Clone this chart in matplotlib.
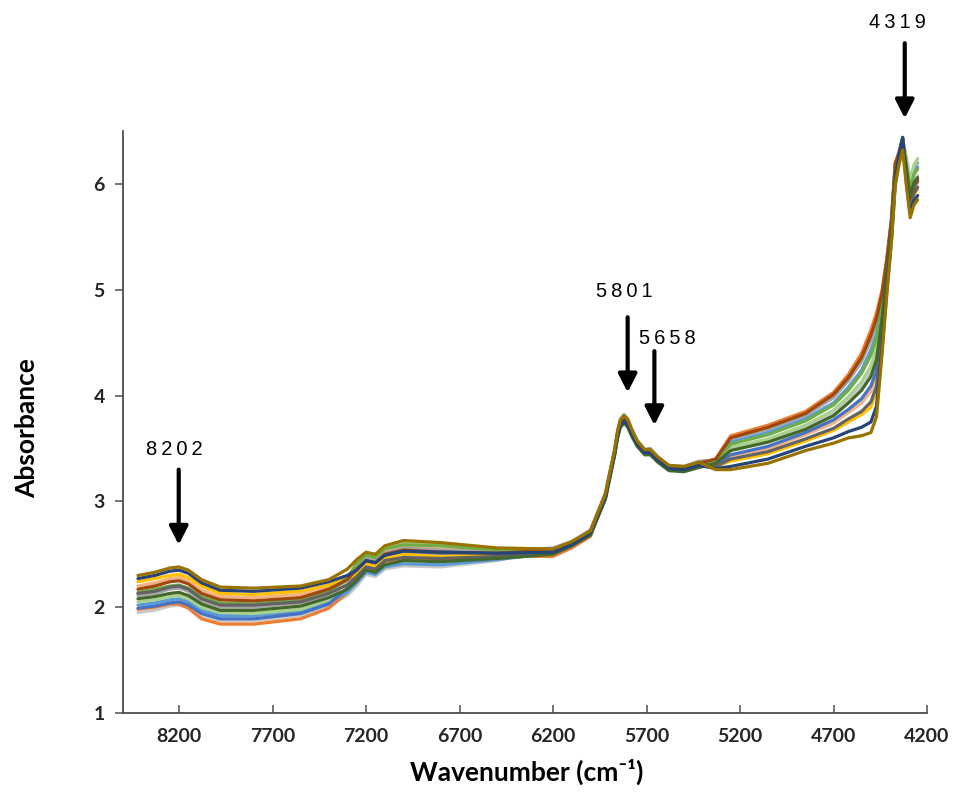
import matplotlib
matplotlib.use("Agg")
import matplotlib.pyplot as plt

plt.rcParams["font.family"] = ["Lato", "DejaVu Sans"]

# Wavenumber grid (cm-1) shared by all spectra
wavenumber = [8420, 8330, 8250, 8200, 8150, 8080, 7980, 7800, 7550, 7400,
              7300, 7250, 7200, 7150, 7100, 7000, 6800, 6500,
              6200, 6100, 6000, 5920, 5870, 5855, 5840, 5820, 5800, 5780,
              5750, 5710, 5680, 5640, 5580, 5500, 5420,
              5330, 5250, 5050, 4850, 4700, 4620, 4550, 4500, 4470, 4440,
              4415, 4390, 4370, 4350, 4330, 4310, 4290, 4270, 4250]

# Absorbance of each sample spectrum
spec_light_gray = [1.95, 1.97, 2.01, 2.02, 2.00, 1.92, 1.87, 1.87, 1.92, 2.01,
                   2.11, 2.20, 2.31, 2.29, 2.36, 2.39, 2.38, 2.44,
                   2.55, 2.61, 2.72, 3.07, 3.49, 3.66, 3.76, 3.80, 3.76, 3.68, 3.57, 3.48, 3.49, 3.41, 3.33, 3.32, 3.37,
                   3.36, 3.49, 3.58, 3.70, 3.84, 3.96, 4.09, 4.23, 4.39, 4.76, 5.16, 5.58, 6.11, 6.25, 6.39, 6.14, 5.90, 6.03, 6.08]
spec_orange = [1.98, 2.00, 2.03, 2.03, 1.99, 1.89, 1.84, 1.84, 1.89, 1.99,
               2.14, 2.28, 2.37, 2.35, 2.43, 2.46, 2.45, 2.48,
               2.48, 2.56, 2.67, 3.05, 3.47, 3.64, 3.74, 3.78, 3.74, 3.66, 3.55, 3.47, 3.47, 3.40, 3.32, 3.31, 3.35,
               3.40, 3.62, 3.72, 3.85, 4.03, 4.20, 4.40, 4.62, 4.78, 5.00, 5.30, 5.67, 6.20, 6.30, 6.44, 6.10, 5.85, 5.97, 6.02]
spec_light_orange = [2.20, 2.23, 2.27, 2.28, 2.25, 2.16, 2.10, 2.09, 2.12, 2.19,
                     2.29, 2.39, 2.47, 2.45, 2.53, 2.57, 2.55, 2.53,
                     2.53, 2.60, 2.71, 3.05, 3.47, 3.64, 3.74, 3.78, 3.74, 3.66, 3.55, 3.47, 3.47, 3.40, 3.32, 3.31, 3.35,
                     3.34, 3.43, 3.50, 3.63, 3.74, 3.84, 3.93, 4.04, 4.19, 4.64, 5.09, 5.54, 6.07, 6.23, 6.37, 6.09, 5.82, 5.95, 6.01]
spec_gray = [2.11, 2.13, 2.17, 2.18, 2.15, 2.06, 2.00, 2.00, 2.04, 2.12,
             2.25, 2.38, 2.46, 2.44, 2.51, 2.56, 2.54, 2.52,
             2.56, 2.62, 2.73, 3.08, 3.50, 3.67, 3.78, 3.82, 3.78, 3.69, 3.58, 3.49, 3.50, 3.42, 3.34, 3.33, 3.38,
             3.39, 3.59, 3.68, 3.81, 3.98, 4.14, 4.32, 4.52, 4.68, 4.94, 5.27, 5.65, 6.18, 6.29, 6.43, 6.22, 6.00, 6.14, 6.20]
spec_blue = [2.02, 2.04, 2.07, 2.08, 2.05, 1.97, 1.92, 1.92, 1.96, 2.05,
             2.14, 2.23, 2.33, 2.31, 2.38, 2.41, 2.40, 2.45,
             2.51, 2.58, 2.69, 3.03, 3.45, 3.61, 3.71, 3.75, 3.71, 3.63, 3.53, 3.45, 3.45, 3.38, 3.30, 3.29, 3.33,
             3.38, 3.56, 3.65, 3.78, 3.93, 4.08, 4.24, 4.43, 4.58, 4.88, 5.23, 5.63, 6.16, 6.28, 6.42, 6.20, 5.97, 6.10, 6.16]
spec_mid_blue = [1.99, 2.01, 2.04, 2.05, 2.02, 1.94, 1.89, 1.89, 1.94, 2.03,
                 2.18, 2.33, 2.42, 2.40, 2.47, 2.51, 2.50, 2.50,
                 2.52, 2.59, 2.70, 3.04, 3.46, 3.62, 3.72, 3.76, 3.72, 3.64, 3.54, 3.46, 3.46, 3.39, 3.31, 3.30, 3.34,
                 3.35, 3.44, 3.52, 3.65, 3.77, 3.87, 3.97, 4.09, 4.24, 4.67, 5.11, 5.55, 6.08, 6.23, 6.37, 6.10, 5.84, 5.97, 6.03]
spec_light_green = [2.05, 2.07, 2.10, 2.11, 2.08, 2.00, 1.95, 1.94, 1.98, 2.07,
                    2.25, 2.43, 2.50, 2.48, 2.56, 2.61, 2.59, 2.55,
                    2.52, 2.60, 2.70, 3.04, 3.46, 3.63, 3.73, 3.77, 3.73, 3.65, 3.54, 3.46, 3.46, 3.39, 3.31, 3.30, 3.34,
                    3.37, 3.51, 3.59, 3.72, 3.86, 3.99, 4.13, 4.28, 4.44, 4.79, 5.18, 5.59, 6.12, 6.26, 6.40, 6.25, 6.04, 6.18, 6.24]
spec_gold = [2.24, 2.27, 2.30, 2.31, 2.28, 2.20, 2.13, 2.12, 2.15, 2.21,
             2.27, 2.31, 2.41, 2.39, 2.46, 2.50, 2.48, 2.49,
             2.54, 2.60, 2.71, 3.06, 3.48, 3.64, 3.75, 3.79, 3.75, 3.66, 3.56, 3.47, 3.48, 3.40, 3.32, 3.31, 3.36,
             3.33, 3.38, 3.45, 3.57, 3.67, 3.75, 3.82, 3.89, 4.05, 4.55, 5.04, 5.51, 6.04, 6.21, 6.35, 6.05, 5.77, 5.90, 5.95]
spec_green = [2.14, 2.17, 2.20, 2.21, 2.18, 2.10, 2.04, 2.03, 2.07, 2.14,
              2.28, 2.41, 2.49, 2.47, 2.55, 2.59, 2.58, 2.54,
              2.51, 2.59, 2.69, 3.03, 3.45, 3.61, 3.72, 3.76, 3.72, 3.63, 3.53, 3.45, 3.45, 3.38, 3.30, 3.29, 3.33,
              3.38, 3.54, 3.63, 3.76, 3.91, 4.05, 4.21, 4.38, 4.54, 4.85, 5.21, 5.62, 6.15, 6.27, 6.41, 6.18, 5.95, 6.09, 6.14]
spec_dark_gray = [2.13, 2.15, 2.19, 2.20, 2.17, 2.08, 2.02, 2.02, 2.05, 2.13,
                  2.21, 2.29, 2.38, 2.36, 2.44, 2.47, 2.46, 2.48,
                  2.54, 2.60, 2.71, 3.06, 3.48, 3.64, 3.75, 3.79, 3.75, 3.66, 3.56, 3.47, 3.48, 3.40, 3.32, 3.31, 3.36,
                  3.33, 3.40, 3.47, 3.59, 3.69, 3.78, 3.85, 3.94, 4.09, 4.58, 5.06, 5.52, 6.05, 6.22, 6.36, 6.06, 5.79, 5.91, 5.97]
spec_brown = [2.17, 2.20, 2.24, 2.25, 2.22, 2.13, 2.07, 2.06, 2.09, 2.17,
              2.26, 2.36, 2.44, 2.42, 2.50, 2.54, 2.52, 2.51,
              2.54, 2.61, 2.72, 3.06, 3.48, 3.65, 3.76, 3.80, 3.76, 3.67, 3.56, 3.48, 3.48, 3.41, 3.33, 3.32, 3.36,
              3.40, 3.60, 3.70, 3.83, 4.01, 4.17, 4.36, 4.57, 4.73, 4.97, 5.28, 5.66, 6.19, 6.29, 6.43, 6.12, 5.86, 5.99, 6.04]
spec_dark_green = [2.08, 2.10, 2.13, 2.14, 2.11, 2.03, 1.97, 1.97, 2.01, 2.09,
                   2.17, 2.25, 2.35, 2.33, 2.40, 2.44, 2.43, 2.46,
                   2.50, 2.58, 2.68, 3.02, 3.44, 3.60, 3.70, 3.74, 3.70, 3.62, 3.52, 3.44, 3.44, 3.37, 3.29, 3.28, 3.32,
                   3.36, 3.48, 3.56, 3.68, 3.81, 3.93, 4.05, 4.18, 4.34, 4.73, 5.14, 5.57, 6.10, 6.25, 6.39, 6.13, 5.88, 6.01, 6.06]
spec_dark_blue = [2.27, 2.30, 2.34, 2.35, 2.32, 2.23, 2.16, 2.15, 2.18, 2.24,
                  2.30, 2.35, 2.44, 2.42, 2.49, 2.53, 2.52, 2.51,
                  2.52, 2.59, 2.70, 3.04, 3.46, 3.62, 3.72, 3.76, 3.72, 3.64, 3.54, 3.46, 3.46, 3.39, 3.31, 3.30, 3.34,
                  3.31, 3.33, 3.40, 3.52, 3.60, 3.66, 3.70, 3.75, 3.90, 4.46, 4.99, 5.47, 6.00, 6.28, 6.44, 6.01, 5.72, 5.84, 5.89]
spec_olive = [2.30, 2.33, 2.37, 2.38, 2.35, 2.26, 2.19, 2.18, 2.20, 2.26,
              2.36, 2.45, 2.52, 2.50, 2.58, 2.63, 2.61, 2.56,
              2.55, 2.62, 2.72, 3.07, 3.49, 3.66, 3.77, 3.81, 3.77, 3.68, 3.57, 3.49, 3.49, 3.42, 3.34, 3.33, 3.37,
              3.30, 3.30, 3.36, 3.48, 3.55, 3.60, 3.62, 3.65, 3.80, 4.40, 4.95, 5.45, 5.98, 6.18, 6.32, 5.98, 5.68, 5.80, 5.85]

spectra = [spec_light_gray, spec_orange, spec_light_orange, spec_gray, spec_blue,
           spec_mid_blue, spec_light_green, spec_gold, spec_green, spec_dark_gray,
           spec_brown, spec_dark_green, spec_dark_blue, spec_olive]
colors = ["#C9C9C9", "#ED7D31", "#F4B183", "#A5A5A5", "#5B9BD5",
          "#4472C4", "#A9D18E", "#FFC000", "#70AD47", "#636363",
          "#9E480E", "#43682B", "#264478", "#997300"]

# Marked band positions
band_wavenumbers = [8202, 5801, 5658, 4319]
band_labels = ["8202", "5801", "5658", "4319"]

x_ticks = [8200, 7700, 7200, 6700, 6200, 5700, 5200, 4700, 4200]
y_ticks = [1, 2, 3, 4, 5, 6]

fig = plt.figure(figsize=(9.54, 7.96), dpi=100)
ax = fig.add_axes([123 / 954, 83 / 796, 804 / 954, 582 / 796])

for values, color in zip(spectra, colors):
    ax.plot(wavenumber, values, color=color, lw=2.3, solid_capstyle="round",
            solid_joinstyle="round")

ax.set_xlim(8500, 4200)
ax.set_ylim(1, 6.5)
ax.set_xticks(x_ticks)
ax.set_yticks(y_ticks)
ax.set_xticklabels([str(t) for t in x_ticks])
ax.set_yticklabels([str(t) for t in y_ticks])

for side in ("top", "right"):
    ax.spines[side].set_visible(False)
for side in ("left", "bottom"):
    ax.spines[side].set_color("#4d4d4d")
    ax.spines[side].set_linewidth(1.3)

ax.tick_params(axis="x", direction="in", length=6, width=1.1, color="#4d4d4d",
               pad=11, labelsize=14, labelcolor="#262626")
ax.tick_params(axis="y", direction="out", length=6, width=1.1, color="#4d4d4d",
               pad=7, labelsize=14, labelcolor="#262626")
for lbl in ax.get_xticklabels() + ax.get_yticklabels():
    lbl.set_fontweight("bold")

fig.text(527 / 954, 1 - 772 / 796, "Wavenumber (cm\u207b\u00b9)", ha="center", va="center",
         fontsize=19, fontweight="bold")
fig.text(27 / 954, 1 - 428 / 796, "Absorbance", ha="center", va="center",
         rotation=90, fontsize=19, fontweight="bold")

# Arrow layout: tip, tail and label heights (data units), label nudge in points
tip_y = [2.59, 4.03, 3.72, 6.62]
tail_y = [3.30, 4.74, 4.42, 7.33]
label_y = [3.49, 4.98, 4.54, 7.53]
label_dx = [-3.5, -2.5, 9.5, -5.0]

for x, lab, ty, tl, ly, dx in zip(band_wavenumbers, band_labels, tip_y, tail_y,
                                  label_y, label_dx):
    ax.annotate("", xy=(x, ty), xytext=(x, tl), annotation_clip=False,
                arrowprops=dict(arrowstyle="-|>,head_length=0.55,head_width=0.28",
                                color="black", lw=3.0, shrinkA=0, shrinkB=0,
                                mutation_scale=20))
    spaced = "\u2009".join(lab)
    ax.annotate(spaced, xy=(x, ly), xytext=(dx, 0), textcoords="offset points",
                ha="center", va="center", fontsize=14.5, annotation_clip=False,
                family=["Liberation Sans", "DejaVu Sans"], color="black")

fig.savefig("out.png", dpi=100)
